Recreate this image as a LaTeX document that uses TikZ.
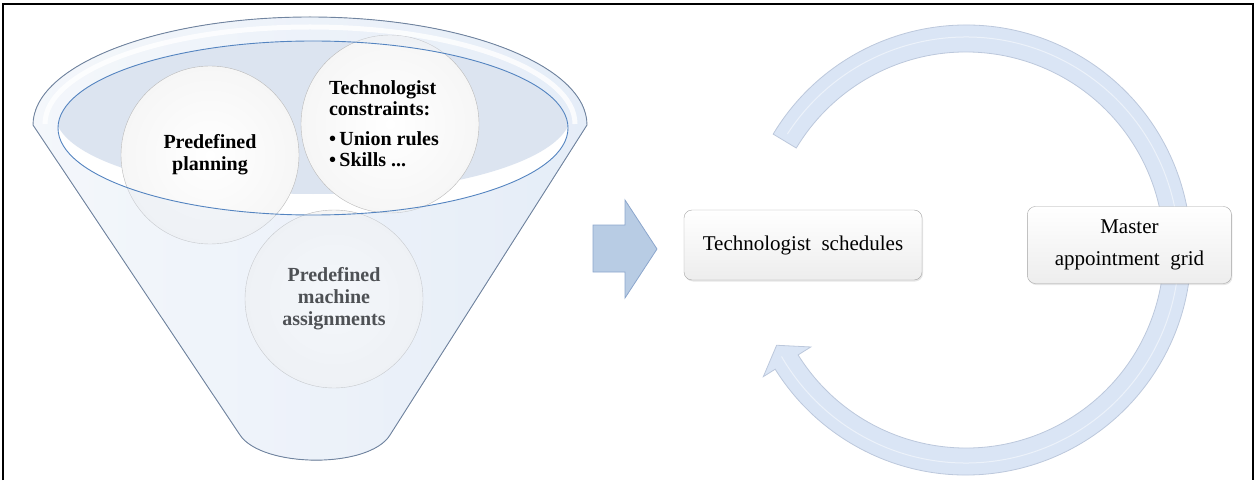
\documentclass[tikz,border=0pt]{standalone}
\usepackage{fontspec}
\setmainfont{Liberation Serif}
\newfontfamily\timesfont{Liberation Serif}
\usetikzlibrary{positioning, shadows}
\definecolor{rimline}{RGB}{112,132,160}
\definecolor{innerline}{RGB}{84,132,192}
\definecolor{bowlblue}{RGB}{220,228,240}
\definecolor{glassblue}{RGB}{225,233,245}
\definecolor{bodyblue}{RGB}{232,240,250}
\definecolor{arrowblue}{RGB}{184,204,228}
\definecolor{arrowedge}{RGB}{140,166,204}
\definecolor{loopblue}{RGB}{218,229,245}
\definecolor{loopedge}{RGB}{188,200,220}
\definecolor{boxedge}{RGB}{165,165,165}

\tikzset{
	ball/.style={circle, draw=gray!55, inner color=white, outer color=gray!7, minimum size=178pt, inner sep=0pt, align=center, font=\timesfont\fontsize{20}{22}\selectfont\bfseries},
	card/.style={rectangle, rounded corners=8pt, draw=boxedge, top color=white, bottom color=gray!14, align=center, inner sep=0pt, font=\timesfont\fontsize{21}{32}\selectfont, drop shadow={opacity=0.2, shadow xshift=1pt, shadow yshift=-1.5pt}},
}

\begin{document}
\begin{tikzpicture}[x=1pt, y=1pt]
\useasboundingbox (0,0) rectangle (1257,480);

% frame, open at the bottom
\draw[line width=1.5pt] (3,0) -- (3,476) -- (1253,476) -- (1253,0);

%----------FUNNEL-------------%
\fill[left color=white, right color=bodyblue]
(33,355) -- (240,45) .. controls (262,12) and (369,11) .. (390,45) -- (587,355)
arc[start angle=0, end angle=180, x radius=277, y radius=108] -- cycle;

% inside of the bowl
\fill[white] (313,352) ellipse[x radius=255, y radius=87];
\begin{scope}
\clip (313,352) ellipse[x radius=255, y radius=87];
\fill[bowlblue] (313,366) ellipse[x radius=258, y radius=80];
\end{scope}

%----------BALLS-------------%
\node[ball] (machine) at (334,181) {Predefined\\machine\\assignments};
\node[ball] (plan) at (210,325) {Predefined\\planning};
\node[ball] (tech) at (390,356) {};
\node[align=left, font=\timesfont\fontsize{20}{21}\selectfont\bfseries] (techtext) at (384,356)
{Technologist\\constraints:\\[9pt]\textbullet\,Union rules\\\textbullet\,Skills ...};

% glass in front of the balls
\fill[glassblue, opacity=0.35, even odd rule]
(33,355) -- (240,45) .. controls (262,12) and (369,11) .. (390,45) -- (587,355)
arc[start angle=0, end angle=180, x radius=277, y radius=108] -- cycle
(313,352) ellipse[x radius=255, y radius=87];

% outlines of the funnel
\draw[rimline, line width=0.9pt]
(33,355) -- (240,45) .. controls (262,12) and (369,11) .. (390,45) -- (587,355)
arc[start angle=0, end angle=180, x radius=277, y radius=108] -- cycle;
\draw[white, line width=5pt, opacity=0.8] (575,356) arc[start angle=0, end angle=180, x radius=265, y radius=97];
\draw[innerline, line width=0.9pt] (313,352) ellipse[x radius=255, y radius=87];

%----------CYCLE-------------%
\coordinate (loop) at (966,230);
\filldraw[fill=loopblue, draw=loopedge, line width=0.8pt]
([shift={(149:225)}]loop) arc[start angle=149, end angle=-148, radius=225]
-- ([shift={(-148:239)}]loop) -- ([shift={(-153.3:212)}]loop)
-- ([shift={(-148:183)}]loop) -- ([shift={(-148:198)}]loop)
arc[start angle=-148, end angle=149, radius=198] -- cycle;
\draw[white, line width=1pt, opacity=0.5] ([shift={(147:213)}]loop) arc[start angle=147, end angle=-150, radius=213];

\node[card, minimum width=238pt, minimum height=70pt] (sched) at (803,235) {Technologist\ \ schedules};
\node[card, minimum width=204pt, minimum height=77pt, right=105pt of sched] (grid) {Master\\appointment\ \ grid};

%----------BLOCK ARROW-------------%
\coordinate (tip) at (657,231);
\filldraw[fill=arrowblue, draw=arrowedge, line width=0.8pt]
(tip) -- ++(-32,49) -- ++(0,-25) -- ++(-32,0) -- ++(0,-47) -- ++(32,0) -- ++(0,-26) -- cycle;

\end{tikzpicture}
\end{document}
